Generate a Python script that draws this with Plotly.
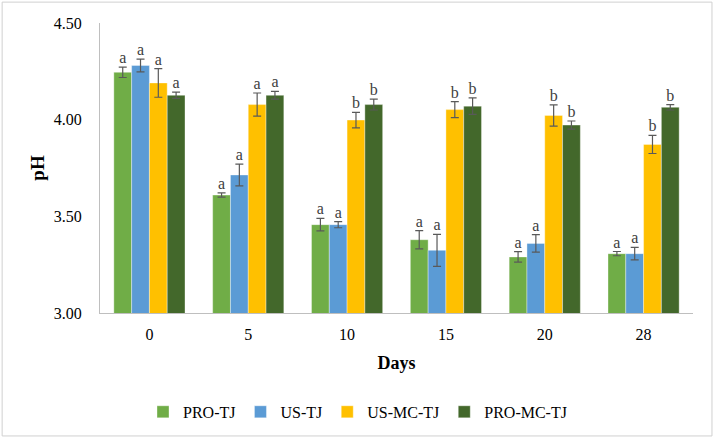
import plotly.graph_objects as go

days = ["0", "5", "10", "15", "20", "28"]
series_names = ["PRO-TJ", "US-TJ", "US-MC-TJ", "PRO-MC-TJ"]
pro_tj = [4.245, 3.61, 3.457, 3.379, 3.29, 3.307]
us_tj = [4.28, 3.714, 3.457, 3.324, 3.36, 3.307]
us_mc_tj = [4.19, 4.078, 3.998, 4.052, 4.022, 3.872]
pro_mc_tj = [4.126, 4.126, 4.078, 4.07, 3.972, 4.064]
pro_tj_err = [0.027, 0.011, 0.032, 0.047, 0.027, 0.011]
us_tj_err = [0.033, 0.056, 0.016, 0.083, 0.045, 0.032]
us_mc_tj_err = [0.074, 0.06, 0.04, 0.041, 0.055, 0.047]
pro_mc_tj_err = [0.016, 0.02, 0.028, 0.043, 0.021, 0.014]
pro_tj_letters = ["a", "a", "a", "a", "a", "a"]
us_tj_letters = ["a", "a", "a", "a", "a", "a"]
us_mc_tj_letters = ["a", "a", "b", "b", "b", "b"]
pro_mc_tj_letters = ["a", "a", "b", "b", "b", "b"]
y_ticks = [3.0, 3.5, 4.0, 4.5]

colors = ["#70AD47", "#5B9BD5", "#FFC000", "#43682B"]
values = [pro_tj, us_tj, us_mc_tj, pro_mc_tj]
errors = [pro_tj_err, us_tj_err, us_mc_tj_err, pro_mc_tj_err]
letters = [pro_tj_letters, us_tj_letters, us_mc_tj_letters, pro_mc_tj_letters]

FONT = "Liberation Serif"
bar_w = 0.18
fig = go.Figure()
for k, name in enumerate(series_names):
    xs = [i + (k - 1.5) * bar_w for i in range(len(days))]
    fig.add_trace(go.Bar(
        x=xs, y=values[k], width=bar_w, name=name,
        marker=dict(color=colors[k], line=dict(color="rgba(255,255,255,0.6)", width=0.6)),
        error_y=dict(type="data", array=errors[k], color="#595959", thickness=1.2, width=4),
    ))
for k, name in enumerate(series_names):
    xs = [i + (k - 1.5) * bar_w for i in range(len(days))]
    fig.add_trace(go.Scatter(
        x=xs, y=[v + e for v, e in zip(values[k], errors[k])], mode="text",
        text=letters[k], textposition="top center",
        textfont=dict(family=FONT, size=16, color="#404040"),
        showlegend=False, hoverinfo="skip", cliponaxis=False,
    ))

fig.update_layout(
    width=715, height=441,
    margin=dict(l=100, r=22, t=23, b=128),
    paper_bgcolor="white", plot_bgcolor="white",
    barmode="overlay",
    font=dict(family=FONT, size=15, color="#000000"),
    showlegend=True,
    legend=dict(orientation="h", xref="container", yref="container",
                x=0.5, xanchor="center", y=0.066, yanchor="middle",
                font=dict(family=FONT, size=16, color="#000000"),
                itemwidth=30, traceorder="normal"),
    shapes=[dict(type="rect", xref="paper", yref="paper", x0=-0.165, x1=1.032,
                 y0=-0.424, y1=1.072, line=dict(color="#D0D0D0", width=1))],
)
fig.update_xaxes(
    range=[-0.5, len(days) - 0.5], automargin=False,
    tickmode="array", tickvals=list(range(len(days))), ticktext=days,
    showline=True, linecolor="#BFBFBF", linewidth=1, ticks="", ticklabelstandoff=7,
    showgrid=False, zeroline=False,
    tickfont=dict(family=FONT, size=16, color="#000000"),
    title=dict(text="<b>Days</b>", font=dict(family=FONT, size=18, color="#000000"), standoff=14),
)
fig.update_yaxes(
    range=[3.0, 4.5], automargin=False,
    tickvals=y_ticks, ticktext=[f"{t:.2f}" for t in y_ticks],
    showline=True, linecolor="#BFBFBF", linewidth=1, ticks="", ticklabelstandoff=14,
    showgrid=False, zeroline=False,
    tickfont=dict(family=FONT, size=16, color="#000000"),
    title=dict(text="<b>pH</b>", font=dict(family=FONT, size=19, color="#000000"), standoff=4),
)
fig.write_html("out.html", config={"displayModeBar": False},
               post_script="document.body.style.margin='0px';")
